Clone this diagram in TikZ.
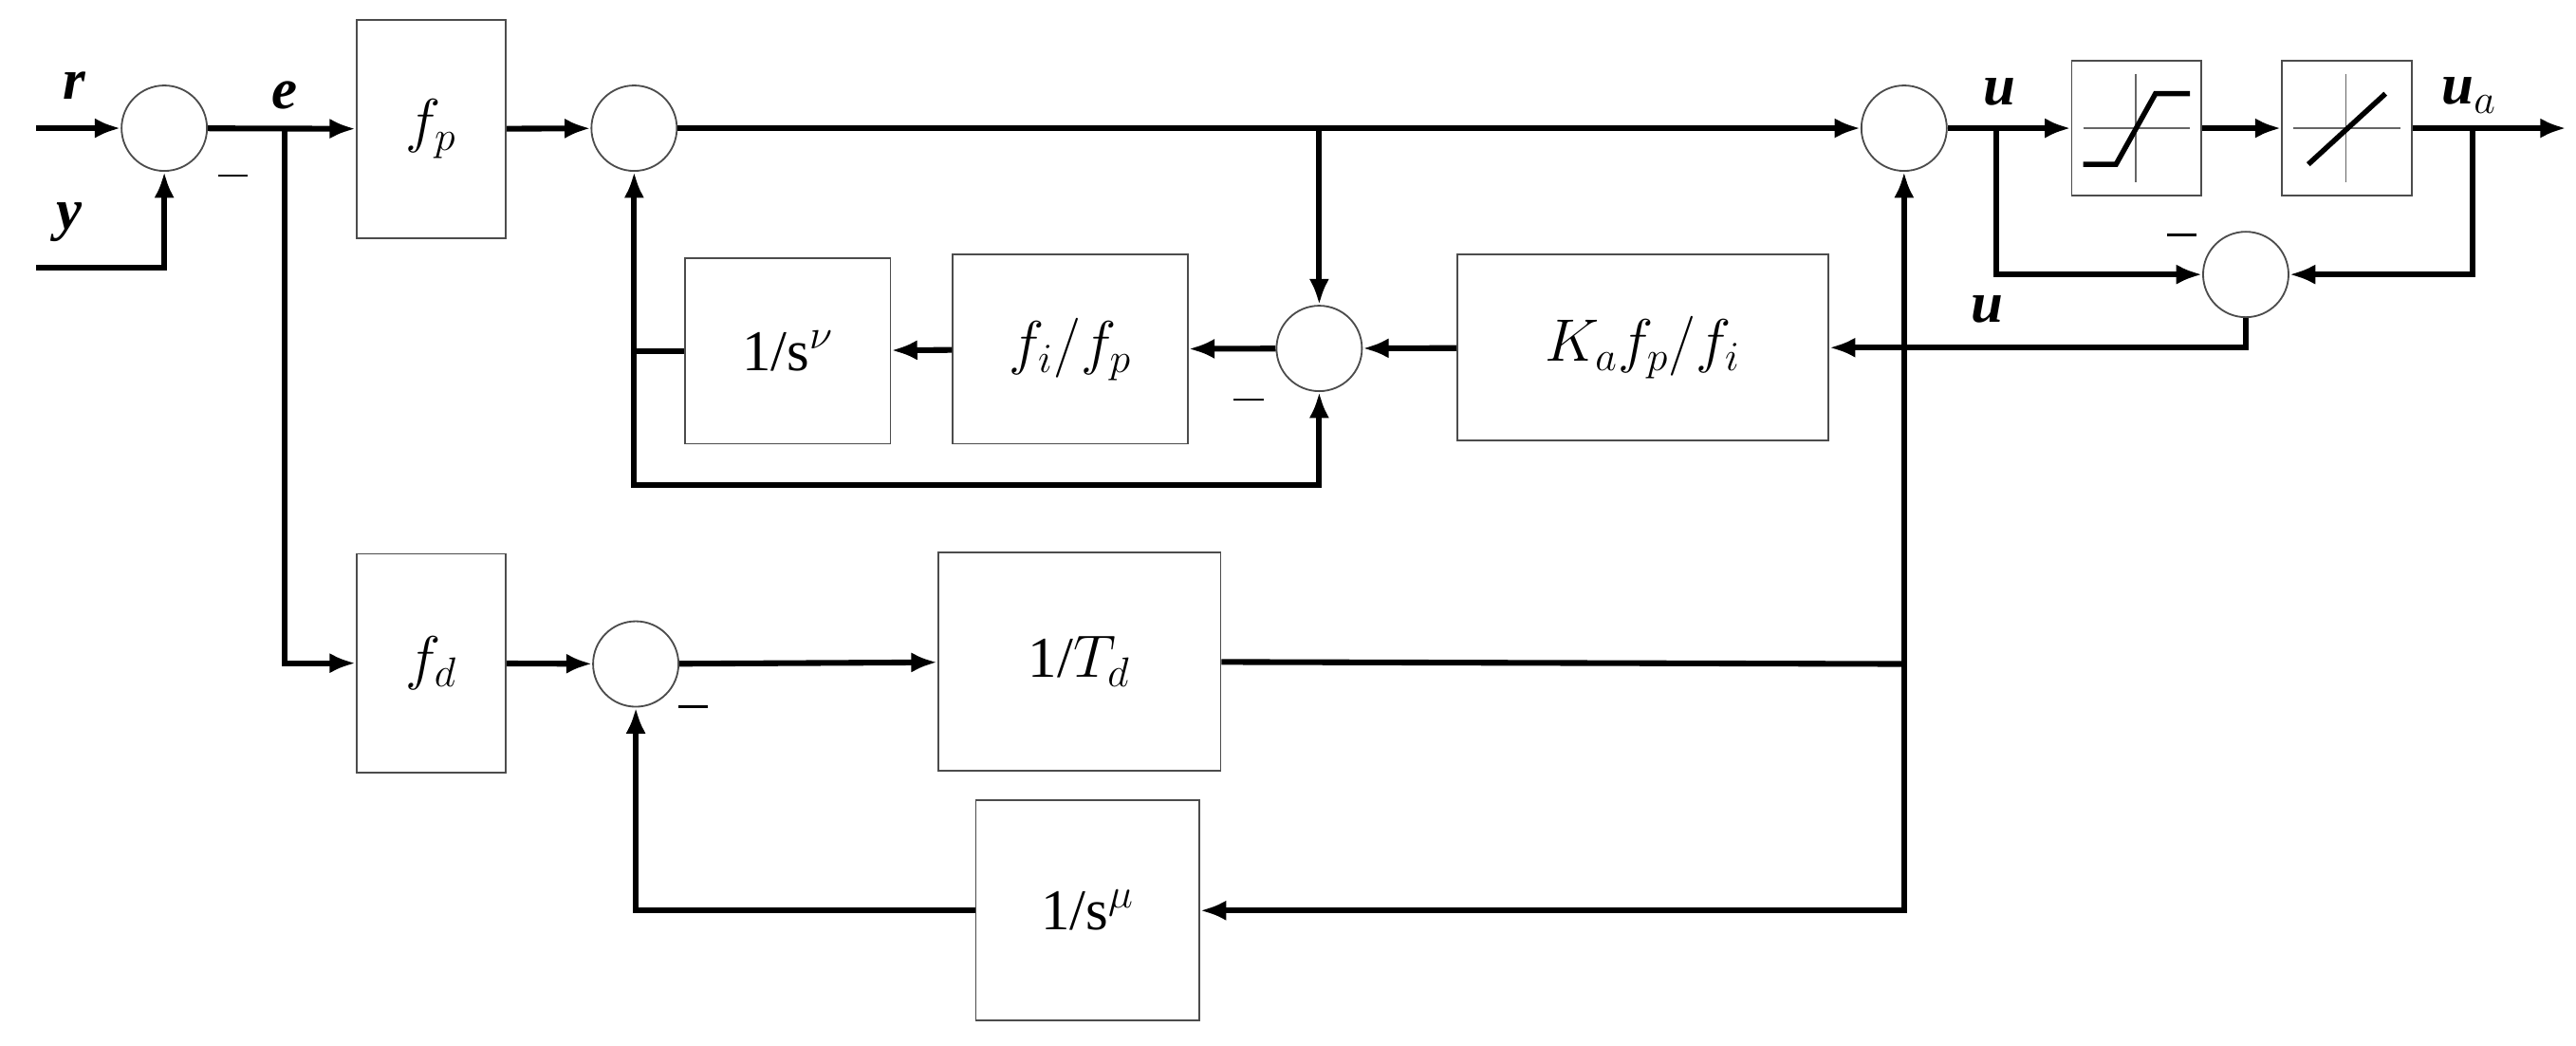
\documentclass[tikz,border=0pt]{standalone}
\usepackage{fontspec}
\setmainfont{Liberation Serif}
\usetikzlibrary{arrows.meta}
\begin{document}
\begin{tikzpicture}[x=0.02cm,y=-0.02cm,
  sig/.style={line width=2pt,-{Latex[length=9pt,width=7pt]}},
  ln/.style={line width=2pt},
  blk/.style={draw=black!70,line width=0.6pt,minimum width=#1,inner sep=0pt},
  sum/.style={circle,draw=black!70,line width=0.6pt,minimum size=1.04cm,inner sep=0pt},
  lab/.style={font=\fontsize{20}{24}\selectfont\bfseries\itshape},
  txt/.style={font=\fontsize{20}{24}\selectfont}]
\useasboundingbox (0,0) rectangle (1568,636);
% sums
\node[sum] (S1) at (100,78) {};
\node[sum] (S2) at (386,78) {};
\node[sum] (S3) at (1159,78) {};
\node[sum] (S4) at (803,212) {};
\node[sum] (S5) at (1367,167) {};
\node[sum] (S6) at (387,404) {};
% blocks
\node[draw=black!70,line width=0.6pt,minimum width=1.82cm,minimum height=2.66cm,txt] (fp) at (262.5,78.5) {$f_p$};
\node[draw=black!70,line width=0.6pt,minimum width=1.82cm,minimum height=2.66cm,txt] (fd) at (262.5,403.5) {$f_d$};
\node[draw=black!70,line width=0.6pt,minimum width=2.5cm,minimum height=2.26cm,txt] (sn) at (479.5,213.5) {1/s$^{\nu}$};
\node[draw=black!70,line width=0.6pt,minimum width=2.86cm,minimum height=2.3cm,txt] (fi) at (651.5,212.5) {$f_i/f_p$};
\node[draw=black!70,line width=0.6pt,minimum width=4.52cm,minimum height=2.26cm,txt] (ka) at (1000,211.5) {$K_af_p/f_i$};
\node[draw=black!70,line width=0.6pt,minimum width=3.44cm,minimum height=2.66cm,txt] (td) at (657,402.5) {1/$T_d$};
\node[draw=black!70,line width=0.6pt,minimum width=2.72cm,minimum height=2.68cm,txt] (sm) at (662,554) {1/s$^{\mu}$};
\node[draw=black!70,line width=0.6pt,minimum width=1.58cm,minimum height=1.64cm] (sat) at (1300.5,78) {};
\node[draw=black!70,line width=0.6pt,minimum width=1.58cm,minimum height=1.64cm] (lin) at (1428.5,78) {};
% icons
\draw[black!60,line width=0.5pt] (1268,78)--(1333,78) (1300,45)--(1300,111);
\draw[line width=1.8pt] (1268,100)--(1288,100)--(1312,57)--(1333,57);
\draw[black!60,line width=0.5pt] (1396,78)--(1461,78) (1428,45)--(1428,111);
\draw[line width=1.8pt] (1405,100)--(1452,57);
% coordinates
\coordinate (rin) at (22,78);
\coordinate (yin) at (22,163);
\coordinate (eb) at (173,78);
\coordinate (b1) at (803,78);
\coordinate (ub) at (1215,78);
\coordinate (uab) at (1505,78);
\coordinate (out) at (1562,78);
\coordinate (td1) at (1159,404);
% signals
\draw[sig] (rin)--(S1);
\draw[sig] (yin)--(100,163)--(S1);
\draw[sig] (S1)--(fp);
\draw[sig] (eb)|-(fd);
\draw[sig] (fp)--(S2);
\draw[sig] (S2)--(S3);
\draw[sig] (b1)--(S4);
\draw[sig] (S4)--(fi);
\draw[sig] (fi)--(sn);
\draw[sig] (sn.west)-|(S2);
\draw[sig] (386,212)--(386,295)-|(S4);
\draw[sig] (ka)--(S4);
\draw[sig] (S5)|-(ka);
\draw[sig] (S3)--(sat);
\draw[sig] (sat)--(lin);
\draw[sig] (lin)--(out);
\draw[sig] (ub)|-(S5);
\draw[sig] (uab)|-(S5);
\draw[sig] (fd)--(S6);
\draw[sig] (S6)--(td);
\draw[ln] (td)--(td1);
\draw[sig] (td1)--(S3);
\draw[sig] (td1)|-(sm);
\draw[sig] (sm)-|(S6);
% labels
\node[lab] at (45,52) {r};
\node[lab] at (42,135) {y};
\node[lab] at (173,58) {e};
\node[lab] at (1217,56) {u};
\node[lab] at (1503,58) {u$_a$};
\node[lab] at (1196,188) {$\mathit{\Delta}$u};
\foreach \p in {(142,107),(760,243),(1328,143),(422,430)}
  \draw[line width=0.8pt] \p ++(-9,0) -- ++(18,0);
\end{tikzpicture}
\end{document}
